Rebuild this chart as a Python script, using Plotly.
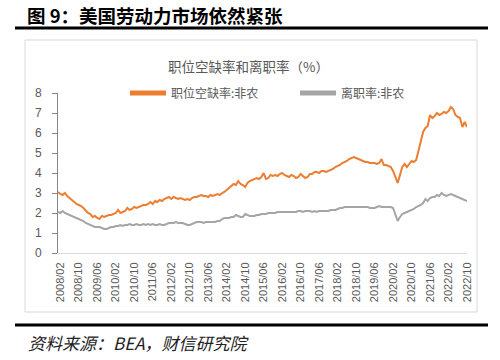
import plotly.graph_objects as go

# ---- data (monthly, 2008/01 - 2022/10) ----
years = list(range(2008, 2023))
months = [f"{y}/{m:02d}" for y in years for m in range(1, 13)][:178]

job_openings_rate = [
    # 2008
    3.05, 2.95, 2.9, 3.0, 2.85, 2.75, 2.65, 2.55, 2.45, 2.4, 2.35, 2.25,
    # 2009
    2.1, 2.0, 1.95, 1.8, 1.85, 1.75, 1.7, 1.85, 1.8, 1.85, 1.9, 1.9,
    # 2010
    1.95, 2.0, 2.15, 2.0, 2.05, 2.1, 2.25, 2.15, 2.2, 2.3, 2.25, 2.3,
    # 2011
    2.35, 2.4, 2.4, 2.45, 2.55, 2.45, 2.6, 2.55, 2.65, 2.6, 2.7, 2.75,
    # 2012
    2.8, 2.7, 2.8, 2.75, 2.7, 2.75, 2.7, 2.65, 2.7, 2.65, 2.75, 2.8,
    # 2013
    2.8, 2.85, 2.9, 2.85, 2.85, 2.8, 2.9, 2.85, 2.9, 2.95, 2.9, 3.0,
    # 2014
    3.05, 3.15, 3.25, 3.35, 3.45, 3.4, 3.6, 3.45, 3.4, 3.3, 3.5, 3.6,
    # 2015
    3.65, 3.7, 3.75, 3.7, 3.8, 4.0, 3.7, 3.75, 3.9, 3.85, 3.9, 3.85,
    # 2016
    3.95, 4.0, 3.9, 3.85, 3.8, 3.9, 3.85, 3.75, 3.8, 3.95, 3.85, 3.75,
    # 2017
    3.8, 3.95, 3.95, 4.05, 4.05, 4.0, 4.1, 4.1, 4.05, 4.1, 4.15, 4.2,
    # 2018
    4.3, 4.35, 4.4, 4.5, 4.55, 4.6, 4.7, 4.75, 4.8, 4.75, 4.7, 4.65,
    # 2019
    4.6, 4.55, 4.55, 4.5, 4.5, 4.5, 4.45, 4.5, 4.7, 4.4, 4.4, 4.35,
    # 2020
    4.3, 4.1, 3.8, 3.5, 3.9, 4.3, 4.45, 4.3, 4.45, 4.6, 4.55, 4.65,
    # 2021
    5.1, 5.6, 6.05, 6.25, 6.35, 6.9, 6.75, 6.85, 7.0, 6.9, 6.95, 7.05,
    # 2022
    7.0, 7.1, 7.3, 7.2, 6.9, 6.8, 6.75, 6.3, 6.55, 6.3,
]

quits_rate = [
    # 2008
    2.05, 2.0, 2.1, 2.0, 1.95, 1.9, 1.85, 1.8, 1.75, 1.7, 1.65, 1.6,
    # 2009
    1.5, 1.45, 1.4, 1.35, 1.3, 1.3, 1.3, 1.25, 1.2, 1.2, 1.25, 1.3,
    # 2010
    1.3, 1.35, 1.35, 1.4, 1.35, 1.4, 1.4, 1.45, 1.4, 1.4, 1.45, 1.4,
    # 2011
    1.4, 1.45, 1.4, 1.45, 1.4, 1.45, 1.4, 1.4, 1.45, 1.4, 1.4, 1.45,
    # 2012
    1.5, 1.5, 1.5, 1.55, 1.5, 1.5, 1.5, 1.45, 1.4, 1.4, 1.45, 1.5,
    # 2013
    1.55, 1.55, 1.55, 1.5, 1.55, 1.55, 1.55, 1.55, 1.55, 1.6, 1.6, 1.7,
    # 2014
    1.75, 1.75, 1.75, 1.8, 1.8, 1.9, 1.85, 1.8, 1.8, 1.95, 1.9, 1.85,
    # 2015
    1.85, 1.85, 1.9, 1.9, 1.95, 1.95, 1.95, 2.0, 2.0, 2.0, 2.0, 2.05,
    # 2016
    2.05, 2.05, 2.05, 2.05, 2.05, 2.05, 2.05, 2.05, 2.1, 2.1, 2.05, 2.1,
    # 2017
    2.1, 2.1, 2.05, 2.1, 2.05, 2.1, 2.1, 2.1, 2.1, 2.1, 2.15, 2.15,
    # 2018
    2.15, 2.2, 2.25, 2.25, 2.3, 2.3, 2.3, 2.3, 2.3, 2.3, 2.3, 2.3,
    # 2019
    2.3, 2.3, 2.3, 2.25, 2.25, 2.25, 2.3, 2.35, 2.3, 2.3, 2.3, 2.3,
    # 2020
    2.3, 2.25, 1.95, 1.6, 1.8, 1.95, 2.0, 2.05, 2.1, 2.15, 2.2, 2.3,
    # 2021
    2.35, 2.4, 2.5, 2.7, 2.6, 2.75, 2.8, 2.8, 2.9, 2.85, 3.0, 2.9,
    # 2022
    2.85, 2.9, 2.95, 2.9, 2.85, 2.8, 2.75, 2.7, 2.65, 2.6,
]

tick_labels = months[1::8]
y_ticks = list(range(0, 9))

series_names = ["职位空缺率:非农", "离职率:非农"]
fig_title = "图 9：美国劳动力市场依然紧张"
chart_title = "职位空缺率和离职率（%）"
source_text = "资料来源：BEA，财信研究院"

# ---- layout geometry (pixels) ----
W, H = 500, 360
L, R, T, B = 58, 467, 93, 253
PW, PH = R - L, B - T


def px(x):
    return (x - L) / PW


def py(y):
    return (B - y) / PH


CJK = "Noto Sans CJK SC"
fig = go.Figure()
fig.add_trace(go.Scatter(x=months, y=job_openings_rate, mode="lines",
                         name=series_names[0],
                         line=dict(color="#ED7D31", width=2)))
fig.add_trace(go.Scatter(x=months, y=quits_rate, mode="lines",
                         name=series_names[1],
                         line=dict(color="#A5A5A5", width=2)))

shapes = [
    # chart frame
    dict(type="rect", xref="paper", yref="paper",
         x0=px(25), x1=px(477), y0=py(312), y1=py(40),
         line=dict(color="#D9D9D9", width=1), layer="below"),
    # top thick rule
    dict(type="line", xref="paper", yref="paper",
         x0=px(15), x1=px(488), y0=py(28), y1=py(28),
         line=dict(color="#000000", width=3)),
    # bottom thick rule
    dict(type="line", xref="paper", yref="paper",
         x0=px(15), x1=px(488), y0=py(325), y1=py(325),
         line=dict(color="#000000", width=3)),
]

annotations = [
    dict(text="<b>" + fig_title + "</b>", xref="paper", yref="paper",
         x=px(25), y=py(15), xanchor="left", yanchor="middle",
         showarrow=False, font=dict(family=CJK, size=18.5, color="#000000")),
    dict(text=chart_title, xref="paper", yref="paper",
         x=px(248), y=py(66), xanchor="center", yanchor="middle",
         showarrow=False, font=dict(family=CJK, size=13.5, color="#595959")),
    dict(text="<i>" + source_text + "</i>", xref="paper", yref="paper",
         x=px(26), y=py(342), xanchor="left", yanchor="middle",
         showarrow=False, font=dict(family=CJK, size=17, color="#222222")),
]

fig.update_layout(
    width=W, height=H,
    margin=dict(l=L, r=W - R, t=T, b=H - B, pad=0),
    paper_bgcolor="white", plot_bgcolor="white",
    showlegend=True,
    legend=dict(orientation="h", x=px(125), y=py(93), xanchor="left",
                yanchor="middle", entrywidth=119, entrywidthmode="pixels",
                itemwidth=36,
                font=dict(family=CJK, size=12, color="#595959"),
                bgcolor="rgba(0,0,0,0)", itemsizing="constant"),
    shapes=shapes,
    annotations=annotations,
    xaxis=dict(type="category", range=[0, len(months) - 1],
               tickmode="array", tickvals=tick_labels, ticktext=tick_labels,
               tickangle=-90, showgrid=False, zeroline=False,
               showline=True, linecolor="#D9D9D9", linewidth=1,
               ticks="", ticklabelstandoff=4,
               tickfont=dict(family="Liberation Sans", size=11, color="#595959")),
    yaxis=dict(range=[0, 8], tickmode="array", tickvals=y_ticks,
               showgrid=False, zeroline=False,
               showline=True, linecolor="#868686", linewidth=1,
               ticks="outside", ticklen=5, tickcolor="#868686",
               ticklabelstandoff=8,
               tickfont=dict(family="Liberation Sans", size=12, color="#595959")),
)

fig.write_html("out.html",
               config={"displayModeBar": False},
               post_script="document.body.style.margin='0';document.body.style.overflow='hidden';")
